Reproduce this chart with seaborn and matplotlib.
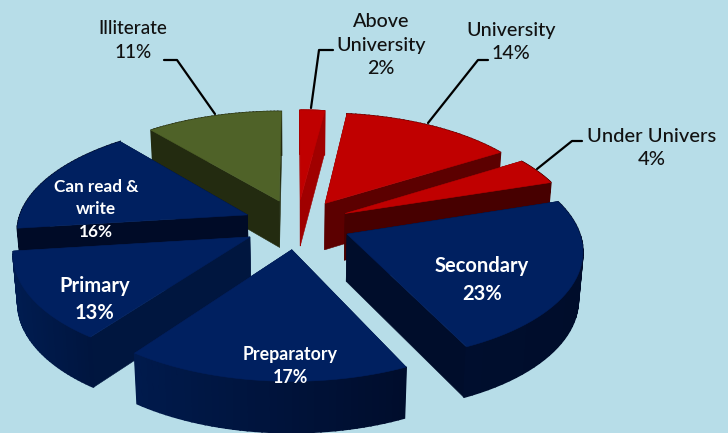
import numpy as np
import matplotlib
matplotlib.use("Agg")
import matplotlib.pyplot as plt
import seaborn as sns

categories = ["Above University", "University", "Under Univers", "Secondary",
              "Preparatory", "Primary", "Can read & write", "Illiterate"]
values = [2, 14, 4, 23, 17, 13, 16, 11]
label_text = ["Above\nUniversity\n2%", "University\n14%", "Under Univers\n4%", "Secondary\n23%",
              "Preparatory\n17%", "Primary\n13%", "Can read &\nwrite\n16%", "Illiterate\n11%"]
top_colors = ["#c00000", "#c00000", "#c00000", "#002060", "#002060", "#002060", "#002060", "#4f6228"]
radial_colors = ["#a00000", "#5c0000", "#470000", "#000d2b", "#00133d", "#00163f", "#000b27", "#232b10"]
arc_from = ["#a00000", "#5c0000", "#470000", "#000e2e", "#001a4c", "#001c50", "#000b27", "#232b10"]
arc_to = ["#a00000", "#5c0000", "#470000", "#000d2b", "#000d2c", "#00153f", "#000b27", "#232b10"]

# layout: (x, y, size, colour, line spacing)
label_pos = [(381, 45, 14.2, "#111111", 1.45), (511, 42, 14.2, "#111111", 1.45), (652, 148, 14.5, "#111111", 1.45),
             (482, 280, 14.5, "white", 1.45), (290, 366, 12.8, "white", 1.4), (95, 299.5, 14.5, "white", 1.45),
             (96, 209.5, 12.3, "white", 1.5), (133, 41, 13.6, "#111111", 1.5)]
leaders = [[(311, 108), (319, 50), (333, 50)], [(428, 123), (478, 60), (488, 60)],
           [(537, 169), (572, 141), (582, 141)], [(215, 114), (177, 60), (164, 60)]]

CX, CY, RX, RY, P, EXPL, DEPTH, SHRINK = 297, 224, 230, 107, 0.131, 0.234, 47, 0.016

sns.set_theme(style="white")
plt.rcParams["font.family"] = ["Lato", "DejaVu Sans"]
BG = "#b7dde8"
fig = plt.figure(figsize=(7.28, 4.33), dpi=100, facecolor=BG)
ax = fig.add_axes([0, 0, 1, 1])


def project(X, Y, bottom=False):
    X, Y = np.asarray(X, float), np.asarray(Y, float)
    s = 1 / (1 + P * Y)
    x = CX + RX * X * s
    y = CY - RY * Y * s
    if bottom:
        x = CX + (x - CX) * (1 - SHRINK)
        y = y + DEPTH * np.sqrt(s)
    return x, y


def poly(xa, ya, color, z, lw=0.4):
    ax.fill(xa, ya, facecolor=color, edgecolor=color, linewidth=lw, zorder=z)


fr = np.cumsum([0] + values) / sum(values) * 2 * np.pi
mids = (fr[:-1] + fr[1:]) / 2
order = np.argsort(-np.cos(mids))

for rank, i in enumerate(order):
    z = 2 + rank
    a0, a1, m = fr[i], fr[i + 1], mids[i]
    ox, oy = EXPL * np.sin(m), EXPL * np.cos(m)
    th = np.linspace(a0, a1, 40)
    AX, AY = ox + np.sin(th), oy + np.cos(th)
    tx, ty = project(AX, AY)
    bx, by = project(AX, AY, bottom=True)
    ax0, ay0 = project(ox, oy)
    bx0, by0 = project(ox, oy, bottom=True)
    for j in (0, -1):
        poly([ax0, tx[j], bx[j], bx0], [ay0, ty[j], by[j], by0], radial_colors[i], z)
    c0 = np.array(matplotlib.colors.to_rgb(arc_from[i]))
    c1 = np.array(matplotlib.colors.to_rgb(arc_to[i]))
    xmin, xmax = tx.min(), tx.max()
    for k in range(len(th) - 1):
        f = ((tx[k] + tx[k + 1]) / 2 - xmin) / max(xmax - xmin, 1)
        col = tuple(c0 + (c1 - c0) * f)
        poly([tx[k], tx[k + 1], bx[k + 1], bx[k]], [ty[k], ty[k + 1], by[k + 1], by[k]], col, z, lw=1.2)
    poly(np.r_[ax0, tx], np.r_[ay0, ty], top_colors[i], z)

for pts in leaders:
    xs, ys = zip(*pts)
    sns.lineplot(x=list(xs), y=list(ys), sort=False, estimator=None, color="black", lw=1.6, ax=ax, zorder=20)
ax.set_xlim(0, 728)
ax.set_ylim(433, 0)
ax.axis("off")

for txt, (x, y, size, col, sp) in zip(label_text, label_pos):
    ax.text(x, y, txt, ha="center", va="center", fontsize=size, color=col,
            fontweight="bold" if col == "white" else "medium", linespacing=sp, zorder=30)

fig.savefig("out.png", dpi=100, facecolor=BG)
